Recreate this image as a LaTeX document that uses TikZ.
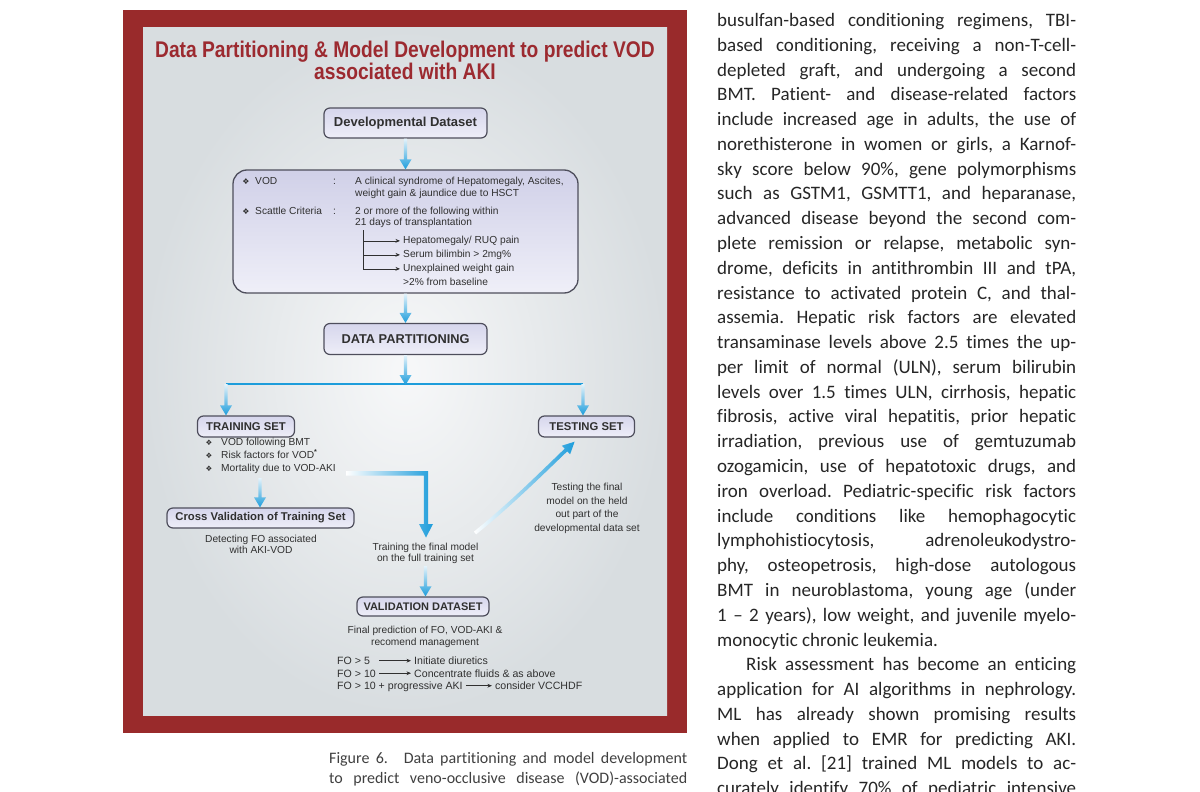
\documentclass[tikz,border=0pt]{standalone}
\usepackage{graphicx}
\usepackage{fontspec}
\setmainfont{Liberation Sans}
\newfontfamily\bodyfont[Ligatures=NoCommon]{Carlito}
\newfontfamily\symfont{DejaVu Sans}
\usetikzlibrary{calc,arrows.meta}
\definecolor{framered}{HTML}{992A2B}
\definecolor{titlered}{HTML}{9C2A30}
\definecolor{panelin}{HTML}{F7F8F9}
\definecolor{panelout}{HTML}{D8DDE0}
\definecolor{arrowblue}{HTML}{1E9DDB}
\definecolor{fadetop}{HTML}{E4F3FB}
\definecolor{boxtop}{HTML}{D6D6EC}
\definecolor{boxbot}{HTML}{EEEEF8}
\definecolor{bigtop}{HTML}{D0D0E8}
\definecolor{bigbot}{HTML}{EFEFF8}
\definecolor{boxline}{HTML}{4E4E5C}
\definecolor{figtext}{HTML}{303030}
\definecolor{pagetext}{HTML}{262626}
\definecolor{captext}{HTML}{404040}
\newcommand\fadearrow[2]{%
  \shade[top color=fadetop, bottom color=arrowblue]
    let \p1=#1, \p2=#2 in
    ({\x1-1.7pt},\y1) -- ({\x1+1.7pt},\y1) -- ({\x1+1.7pt},{\y2+10pt}) --
    ({\x1+6pt},{\y2+10pt}) -- (\x1,\y2) -- ({\x1-6pt},{\y2+10pt}) --
    ({\x1-1.7pt},{\y2+10pt}) -- cycle;}
\begin{document}
\begin{tikzpicture}[x=1pt,y=-1pt,
  box/.style={draw=boxline, line width=1.2pt, rounded corners=6pt,
    top color=boxtop, bottom color=boxbot, inner sep=0pt, text=figtext,
    font=\bfseries\fontsize{11.3}{13}\selectfont},
  bigbox/.style={draw=boxline, line width=1.3pt, rounded corners=14pt,
    top color=bigtop, bottom color=bigbot, inner sep=0pt},
  ftext/.style={font=\fontsize{10.2}{12}\selectfont, text=figtext, inner sep=0pt, anchor=base west},
  fotext/.style={font=\fontsize{10.6}{13}\selectfont, text=figtext, inner sep=0pt, anchor=base west},
  ctr/.style={font=\fontsize{10.2}{12}\selectfont, text=figtext, inner sep=0pt, anchor=base},
  bul/.style={font=\symfont\fontsize{7.5}{9}\selectfont, text=figtext, inner sep=0pt, anchor=base},
  titlestyle/.style={font=\bfseries\fontsize{21}{24}\selectfont, text=titlered, inner sep=0pt, anchor=base},
  smallarrow/.style={draw=figtext, line width=0.6pt, -{Stealth[length=4.5pt,width=3.8pt]}},
  ptext/.style={font=\bodyfont\fontsize{19}{24}\selectfont\frenchspacing, text=pagetext, anchor=base west, inner sep=0pt},
  ctext/.style={font=\bodyfont\fontsize{16}{20}\selectfont\frenchspacing, text=captext, anchor=base west, inner sep=0pt}]
\useasboundingbox (0,0) rectangle (1200,792);
\clip (0,0) rectangle (1200,792);
\fill[white] (0,0) rectangle (1200,792);

% ---------- frame and panel ----------
\fill[framered] (123,10) rectangle (687,733);
\shade[inner color=panelin, outer color=panelout] (143,28) rectangle (667,715);

% ---------- title ----------
\node[titlestyle] (t1) at (405,57.5) {\scalebox{0.915}[1.08]{Data Partitioning \& Model Development to predict VOD}};
\node[titlestyle] (t2) at (405,79.5) {\scalebox{0.915}[1.08]{associated with AKI}};

% ---------- boxes ----------
\node[box, minimum width=163pt, minimum height=30pt, font=\bfseries\fontsize{13}{15}\selectfont] (dev) at (405.5,123) {Developmental Dataset};
\node[bigbox, minimum width=345pt, minimum height=123pt] (big) at (405.5,231.5) {};
\node[box, minimum width=163pt, minimum height=31pt, font=\bfseries\fontsize{12.8}{15}\selectfont] (dp) at (405.5,339) {DATA PARTITIONING};
\node[box, minimum width=97pt, minimum height=21pt] (train) at (246,426.5) {TRAINING SET};
\node[box, minimum width=96pt, minimum height=21pt] (test) at (586.5,426.5) {TESTING SET};
\node[box, minimum width=187pt, minimum height=20pt] (cross) at (260.5,518) {Cross Validation of Training Set};
\node[box, minimum width=132pt, minimum height=19pt, font=\bfseries\fontsize{11}{13}\selectfont] (valid) at (423,606.5) {VALIDATION DATASET};

% ---------- content of the big box ----------
\node[bul, font=\symfont\fontsize{8}{9}\selectfont] (b1) at (246,184.5) {❖};
\node[ftext] (vod) at (255,184.5) {VOD};
\node[ftext] (c1) at (333,184.5) {:};
\node[ftext] (d1) at (355,184.5) {A clinical syndrome of Hepatomegaly, Ascites,};
\node[ftext] (d2) at (355,196.5) {weight gain \& jaundice due to HSCT};
\node[bul, font=\symfont\fontsize{8}{9}\selectfont] (b2) at (246,214.5) {❖};
\node[ftext] (sc) at (255,214.5) {Scattle Criteria};
\node[ftext] (c2) at (333,214.5) {:};
\node[ftext] (d3) at (355,214.5) {2 or more of the following within};
\node[ftext] (d4) at (355,225.5) {21 days of transplantation};
\node[ftext] (h1) at (403,243.5) {Hepatomegaly/ RUQ pain};
\node[ftext] (h2) at (403,257.5) {Serum bilimbin > 2mg\%};
\node[ftext] (h3) at (403,271.5) {Unexplained weight gain};
\node[ftext] (h4) at (403,285.5) {>2\% from baseline};
\coordinate (br) at (363,230);
\draw[figtext, line width=0.7pt] (br) -- (h3.west -| br);
\draw[smallarrow] (h1.west -| br) -- ([xshift=-3pt]h1.west);
\draw[smallarrow] (h2.west -| br) -- ([xshift=-3pt]h2.west);
\draw[smallarrow] (h3.west -| br) -- ([xshift=-3pt]h3.west);

% ---------- split line and arrows ----------
\coordinate (sl) at (226,384);
\coordinate (sr) at (583,384);
\coordinate (sm) at (405.5,385);
\draw[arrowblue, line width=2.2pt] (sl) -- (sr);
\fadearrow{(dev.south)}{(big.north)}
\fadearrow{(big.south)}{(dp.north)}
\fadearrow{(dp.south)}{(sm)}
\fadearrow{(sl)}{(train.north)}
\fadearrow{(sr)}{(test.north)}

% ---------- training set list ----------
\node[bul] (tb1b) at (209,445.5) {❖};
\node[ftext] (tb1) at (221,445.5) {VOD following BMT};
\node[bul] (tb2b) at (209,458.5) {❖};
\node[ftext] (tb2) at (221,458.5) {Risk factors for VOD\textsuperscript{\textbf{*}}};
\node[bul] (tb3b) at (209,471.5) {❖};
\node[ftext] (tb3) at (221,471.5) {Mortality due to VOD-AKI};
\coordinate (ca) at (260,478);
\fadearrow{(ca)}{(cross.north)}
\node[ctr] (det1) at (261,542.5) {Detecting FO associated};
\node[ctr] (det2) at (261,553.5) {with AKI-VOD};

% ---------- elbow arrow to final training ----------
\shade[left color=white, right color=arrowblue]
  (346,471.2) -- (428.2,471.2) -- (428.2,524) -- (433,524) -- (426,537.5) --
  (419,524) -- (423.8,524) -- (423.8,475.6) -- (346,475.6) -- cycle;
\node[ctr] (tr1) at (425.5,550.5) {Training the final model};
\node[ctr] (tr2) at (425.5,561) {on the full training set};
\coordinate (tv) at (425.5,566);
\fadearrow{(tv)}{(valid.north)}

% ---------- curved arrow to testing set ----------
\shade[left color=white, right color=arrowblue]
  (476.1,534.4) .. controls (511.1,506.4) and (546.3,471.3) .. (567.3,451.3) --
  (570.1,454.3) -- (574.6,441.7) -- (561.9,445.7) -- (564.7,448.7)
  .. controls (543.7,468.7) and (508.9,503.6) .. (473.9,531.6) -- cycle;
\node[ctr] (te1) at (587,490.5) {Testing the final};
\node[ctr] (te2) at (587,504) {model on the held};
\node[ctr] (te3) at (587,517.5) {out part of the};
\node[ctr] (te4) at (587,531) {developmental data set};

% ---------- validation ----------
\node[ctr] (fp1) at (425,633.5) {Final prediction of FO, VOD-AKI \&};
\node[ctr] (fp2) at (425,645) {recomend management};
\node[fotext] (fo1) at (337,664.5) {FO > 5};
\node[fotext] (fo2) at (337,677) {FO > 10};
\node[fotext] (fo3) at (337,689.5) {FO > 10 + progressive AKI};
\node[fotext] (r1) at (414,664.5) {Initiate diuretics};
\node[fotext] (r2) at (414,677) {Concentrate fluids \& as above};
\node[fotext, anchor=base west] (r3) at ([xshift=32pt]fo3.base east) {consider VCCHDF};
\coordinate (a0) at (379,0);
\draw[smallarrow] (r1.west -| a0) -- ([xshift=-3pt]r1.west);
\draw[smallarrow] (r2.west -| a0) -- ([xshift=-3pt]r2.west);
\draw[smallarrow] ([xshift=3pt]fo3.east |- r3.west) -- ([xshift=-3pt]r3.west);

% ---------- caption ----------
\node[ctext] (cap1) at (329,763.5) {\makebox[358pt][s]{Figure 6.\hspace{0.6em} Data partitioning and model development}};
\node[ctext] (cap2) at (329,783.5) {\makebox[358pt][s]{to predict veno-occlusive disease (VOD)-associated}};

% ---------- right column text ----------
\foreach \t [count=\k from 0] in {
 {busulfan-based conditioning regimens, TBI-},
 {based conditioning, receiving a non-T-cell-},
 {depleted graft, and undergoing a second},
 {BMT. Patient- and disease-related factors},
 {include increased age in adults, the use of},
 {norethisterone in women or girls, a Karnof-},
 {sky score below 90\%, gene polymorphisms},
 {such as GSTM1, GSMTT1, and heparanase,},
 {advanced disease beyond the second com-},
 {plete remission or relapse, metabolic syn-},
 {drome, deficits in antithrombin III and tPA,},
 {resistance to activated protein C, and thal-},
 {assemia. Hepatic risk factors are elevated},
 {transaminase levels above 2.5 times the up-},
 {per limit of normal (ULN), serum bilirubin},
 {levels over 1.5 times ULN, cirrhosis, hepatic},
 {fibrosis, active viral hepatitis, prior hepatic},
 {irradiation, previous use of gemtuzumab},
 {ozogamicin, use of hepatotoxic drugs, and},
 {iron overload. Pediatric-specific risk factors},
 {include conditions like hemophagocytic},
 {lymphohistiocytosis, adrenoleukodystro-},
 {phy, osteopetrosis, high-dose autologous},
 {BMT in neuroblastoma, young age (under},
 {1 – 2 years), low weight, and juvenile myelo-}}
 {\node[ptext] (p\k) at (717,{26.5+24.78*\k}) {\makebox[359pt][s]{\t}};}
\node[ptext] (p25) at (717,{26.5+24.78*25}) {monocytic chronic leukemia.};
\node[ptext] (p26) at (746,{26.5+24.78*26}) {\makebox[330pt][s]{Risk assessment has become an enticing}};
\foreach \t [count=\k from 27] in {
 {application for AI algorithms in nephrology.},
 {ML has already shown promising results},
 {when applied to EMR for predicting AKI.},
 {Dong et al. [21] trained ML models to ac-},
 {curately identify 70\% of pediatric intensive}}
 {\node[ptext] (p\k) at (717,{26.5+24.78*\k}) {\makebox[359pt][s]{\t}};}
\end{tikzpicture}
\end{document}
